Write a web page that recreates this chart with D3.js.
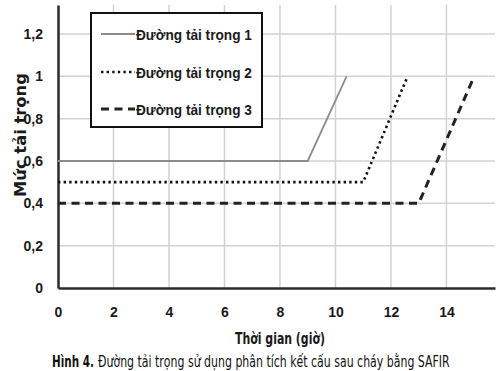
<!DOCTYPE html>
<html>
<head>
<meta charset="utf-8">
<script src="https://cdn.jsdelivr.net/npm/d3@7"></script>
<style>
  body { margin: 0; background: #fff; }
  svg { display: block; font-family: "DejaVu Sans", sans-serif; font-stretch: condensed; }
</style>
</head>
<body>
<svg id="chart" width="500" height="371"></svg>
<script>
'use strict';

// data
const xTicks = [0, 2, 4, 6, 8, 10, 12, 14];
const yTicks = [0, 0.2, 0.4, 0.6, 0.8, 1, 1.2];
const seriesNames = ["Đường tải trọng 1", "Đường tải trọng 2", "Đường tải trọng 3"];
const load1 = [[0, 0.6], [9.0, 0.6], [10.4, 1.0]];
const load2 = [[0, 0.5], [11.0, 0.5], [12.6, 1.0]];
const load3 = [[0, 0.4], [13.0, 0.4], [15.0, 1.0]];
const xTitle = "Thời gian (giờ)";
const yTitle = "Mức tải trọng";
const captionBold = "Hình 4.";
const captionText = "Đường tải trọng sử dụng phân tích kết cấu sau cháy bằng SAFIR";

const svg = d3.select("#chart");
const plotLeft = 58, plotRight = 495, plotTop = 5, plotBottom = 288;

const x = d3.scaleLinear().domain([0, 15.75]).range([plotLeft, plotRight]);
const y = d3.scaleLinear().domain([0, 1.337]).range([plotBottom, plotTop]);

// squeeze a text horizontally so it spans the given width
function fitWidth(sel, px, py, width) {
    let len = sel.node().getComputedTextLength();
    sel.attr("x", 0).attr("y", 0)
        .attr("transform", `translate(${px},${py}) scale(${width / len},1)`);
}

// grid
svg.append("g").selectAll("line").data(yTicks.filter(d => d > 0)).join("line")
    .attr("x1", plotLeft).attr("x2", plotRight)
    .attr("y1", d => y(d)).attr("y2", d => y(d))
    .attr("stroke", "#d2d2d2").attr("stroke-width", 1.5);
svg.append("g").selectAll("line").data(xTicks.filter(d => d > 0)).join("line")
    .attr("x1", d => x(d)).attr("x2", d => x(d))
    .attr("y1", plotTop).attr("y2", plotBottom)
    .attr("stroke", "#d2d2d2").attr("stroke-width", 1.5);

// axes drawn with d3 axis, then restyled
const xAxis = svg.append("g")
    .attr("transform", `translate(0,${plotBottom})`)
    .call(d3.axisBottom(x).tickValues(xTicks).tickSize(0).tickPadding(19).tickFormat(d3.format("d")));
const yAxis = svg.append("g")
    .attr("transform", `translate(${plotLeft},0)`)
    .call(d3.axisLeft(y).tickValues(yTicks).tickSize(0).tickPadding(15)
        .tickFormat(d => String(d).replace(".", ",")));
[xAxis, yAxis].forEach(a => {
    a.select(".domain").attr("stroke", "#2b2b2b").attr("stroke-width", 2.5);
    a.selectAll("text").attr("font-size", 14).attr("font-weight", "bold")
        .attr("fill", "#1a1a1a").attr("font-family", null);
});

// series
const line = d3.line().x(d => x(d[0])).y(d => y(d[1]));
const styles = [
    { data: load1, stroke: "#8c8c8c", width: 1.8, dash: null },
    { data: load2, stroke: "#111", width: 2.6, dash: "2.4,3.2" },
    { data: load3, stroke: "#222", width: 3, dash: "8,5.5" }
];
styles.forEach(s => {
    svg.append("path").datum(s.data)
        .attr("d", line)
        .attr("fill", "none")
        .attr("stroke", s.stroke)
        .attr("stroke-width", s.width)
        .attr("stroke-dasharray", s.dash);
});

// legend
const legend = svg.append("g");
legend.append("rect")
    .attr("x", 91).attr("y", 13).attr("width", 171).attr("height", 114)
    .attr("fill", "#fff").attr("stroke", "#111").attr("stroke-width", 2);
const rowY = [34, 72, 109];
seriesNames.forEach((name, i) => {
    legend.append("line")
        .attr("x1", 101).attr("x2", 135)
        .attr("y1", rowY[i]).attr("y2", rowY[i])
        .attr("stroke", styles[i].stroke)
        .attr("stroke-width", styles[i].width)
        .attr("stroke-dasharray", styles[i].dash);
    let t = legend.append("text")
        .attr("font-family", "Liberation Sans").style("font-stretch", "normal")
        .attr("font-size", 15).attr("font-weight", "bold").attr("fill", "#1a1a1a")
        .text(name);
    fitWidth(t, 136, rowY[i] + 5.5, 116);
});

// axis titles
let yt = svg.append("text")
    .attr("text-anchor", "middle")
    .attr("font-size", 15).attr("font-weight", "bold").attr("fill", "#1a1a1a")
    .text(yTitle);
let yLen = yt.node().getComputedTextLength();
yt.attr("transform", `translate(26,135) rotate(-90) scale(${124 / yLen},1)`);

let xt = svg.append("text")
    .attr("text-anchor", "middle")
    .attr("font-size", 15).attr("font-weight", "bold").attr("fill", "#1a1a1a")
    .text(xTitle);
fitWidth(xt, 280, 344, 90);

// caption, two pieces
let c1 = svg.append("text")
    .attr("font-size", 15).attr("font-weight", "bold").attr("fill", "#111")
    .text(captionBold);
fitWidth(c1, 52, 367, 42);
let c2 = svg.append("text")
    .attr("font-size", 15).attr("fill", "#111")
    .text(captionText);
fitWidth(c2, 98, 367, 352);
</script>
</body>
</html>
